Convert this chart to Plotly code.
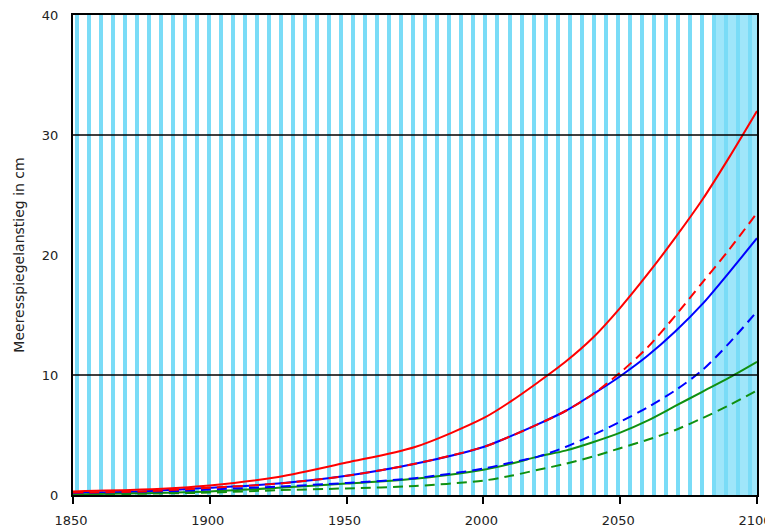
import plotly.graph_objects as go

years = [1850, 1875, 1900, 1925, 1950, 1975, 2000, 2010, 2020, 2030, 2040, 2050, 2060, 2070, 2080, 2090, 2100]

red_solid   = [0.3, 0.45, 0.8, 1.5, 2.7, 4.0, 6.4, 7.8, 9.4, 11.1, 13.1, 15.6, 18.4, 21.4, 24.6, 28.2, 32.0]
red_dashed  = [0.2, 0.3, 0.6, 0.95, 1.6, 2.6, 4.0, 4.9, 5.9, 7.0, 8.4, 10.2, 12.3, 14.9, 17.7, 20.5, 23.5]
blue_solid  = [0.2, 0.3, 0.6, 0.95, 1.6, 2.6, 4.0, 4.9, 5.9, 7.0, 8.4, 9.9, 11.6, 13.6, 15.9, 18.6, 21.4]
blue_dashed = [0.1, 0.2, 0.45, 0.7, 1.0, 1.4, 2.2, 2.7, 3.2, 4.0, 5.0, 6.1, 7.3, 8.7, 10.4, 12.7, 15.3]
green_solid = [0.05, 0.15, 0.3, 0.6, 0.95, 1.35, 2.1, 2.6, 3.2, 3.7, 4.4, 5.2, 6.2, 7.4, 8.6, 9.8, 11.1]
green_dashed = [0.0, 0.1, 0.2, 0.4, 0.55, 0.75, 1.2, 1.6, 2.1, 2.6, 3.2, 3.9, 4.6, 5.4, 6.4, 7.5, 8.7]

x_ticks = [1850, 1900, 1950, 2000, 2050, 2100]
y_ticks = [0, 10, 20, 30, 40]
ref_lines = [10, 30]
dense_band = [2085, 2100]
y_title = "Meeresspiegelanstieg in cm"

CYAN = "#7adcf7"

fig = go.Figure()

series = [
    (red_solid, "#ff0000", "solid"),
    (red_dashed, "#ff0000", "dash"),
    (blue_solid, "#0000ff", "solid"),
    (blue_dashed, "#0000ff", "dash"),
    (green_solid, "#109010", "solid"),
    (green_dashed, "#109010", "dash"),
]
order = [2, 0, 4, 3, 5, 1]
for i in order:
    vals, col, dash = series[i]
    fig.add_trace(go.Scatter(
        x=years, y=vals, mode="lines",
        line=dict(color=col, width=2, dash="10px,6px" if dash == "dash" else "solid",
                  shape="spline", smoothing=0.8),
        showlegend=False, hoverinfo="skip",
    ))

fig.add_shape(type="rect", xref="x", yref="paper", x0=dense_band[0], x1=dense_band[1], y0=0, y1=1,
              fillcolor="#9fe6fa", line_width=0, layer="below")
for v in ref_lines:
    fig.add_shape(type="line", xref="paper", yref="y", x0=0, x1=1, y0=v, y1=v,
                  line=dict(color="black", width=1.5), layer="above")

fig.update_layout(
    width=765, height=524,
    margin=dict(l=65, r=16, t=7, b=37),
    paper_bgcolor="white", plot_bgcolor="white",
    font=dict(family="DejaVu Sans", size=14, color="#222222"),
    xaxis=dict(
        range=[1850, 2100], tickvals=x_ticks, ticktext=[str(t) for t in x_ticks],
        ticks="outside", ticklen=7, tickwidth=1.5, tickcolor="black",
        tickfont=dict(size=13), ticklabelshift=-2,
        ticklabelstandoff=5, ticklabeloverflow="allow", automargin=False,
        showline=True, linecolor="black", linewidth=2, mirror=True,
        showgrid=False, zeroline=False,
        minor=dict(tick0=1851.5, dtick=4.39, showgrid=True, gridcolor=CYAN, gridwidth=3.5, ticks=""),
    ),
    yaxis=dict(
        range=[0, 40], tickvals=y_ticks, ticktext=[str(t) for t in y_ticks],
        ticks="", ticklabelstandoff=10, ticklabeloverflow="allow", automargin=False,
        tickfont=dict(size=13),
        showline=True, linecolor="black", linewidth=2, mirror=True,
        showgrid=False, zeroline=False,
        title=dict(text=y_title, font=dict(size=14), standoff=14),
    ),
)

fig.write_html("out.html")
